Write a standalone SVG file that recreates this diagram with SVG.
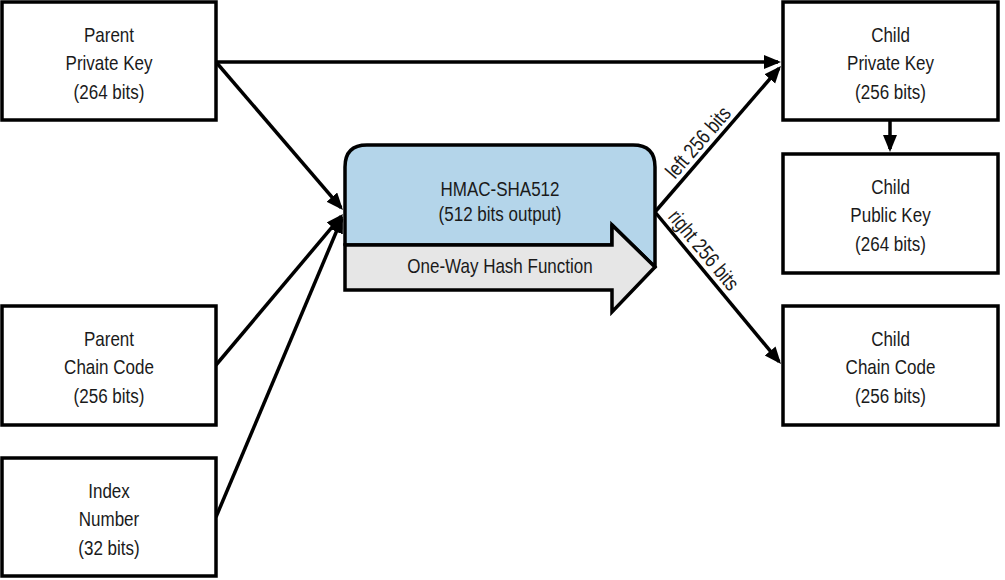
<svg xmlns="http://www.w3.org/2000/svg" width="1005" height="580" viewBox="0 0 1005 580">
<style>
.box{fill:#fff;stroke:#000;stroke-width:3.5}
.t{font-family:"Liberation Sans",Arial,sans-serif;font-size:21px;fill:#1a1a1a;text-anchor:middle}
.c{fill:none;stroke:#000;stroke-width:3.5}
</style>
<defs>
<marker id="ah" markerUnits="userSpaceOnUse" markerWidth="18" markerHeight="16" refX="14" refY="7" orient="auto">
<path d="M0,0 L17,7 L0,14 z" fill="#000"/>
</marker>
</defs>
<rect width="1005" height="580" fill="#fff"/>
<g id="connectors">
<line class="c" x1="216" y1="62" x2="778" y2="62" marker-end="url(#ah)"/>
<line class="c" x1="216" y1="62" x2="341" y2="207.7" marker-end="url(#ah)"/>
<line class="c" x1="216" y1="365" x2="341.1" y2="216.3" marker-end="url(#ah)"/>
<line class="c" x1="216" y1="517" x2="341.8" y2="218.8" marker-end="url(#ah)"/>
<line class="c" x1="655" y1="212" x2="779" y2="68.3" marker-end="url(#ah)"/>
<line class="c" x1="655" y1="212" x2="779.1" y2="361.7" marker-end="url(#ah)"/>
<line class="c" x1="890" y1="120" x2="890" y2="149" marker-end="url(#ah)"/>
<text class="t" transform="translate(703.5,147) rotate(-49.1) scale(0.81,1)">left 256 bits</text>
<text class="t" transform="translate(698.3,254.7) rotate(50.3) scale(0.81,1)">right 256 bits</text>
</g>
<g id="parent-private-key">
<rect class="box" x="2" y="2" width="214" height="118"/>
<text class="t" transform="translate(109,42) scale(0.81,1)">Parent</text>
<text class="t" transform="translate(109,70) scale(0.81,1)">Private Key</text>
<text class="t" transform="translate(109,99) scale(0.81,1)">(264 bits)</text>
</g>
<g id="parent-chain-code">
<rect class="box" x="2" y="306" width="214" height="119"/>
<text class="t" transform="translate(109,346) scale(0.81,1)">Parent</text>
<text class="t" transform="translate(109,374) scale(0.81,1)">Chain Code</text>
<text class="t" transform="translate(109,403) scale(0.81,1)">(256 bits)</text>
</g>
<g id="index-number">
<rect class="box" x="2" y="458" width="214" height="118"/>
<text class="t" transform="translate(109,498) scale(0.81,1)">Index</text>
<text class="t" transform="translate(109,526) scale(0.81,1)">Number</text>
<text class="t" transform="translate(109,555) scale(0.81,1)">(32 bits)</text>
</g>
<g id="hmac">
<path d="M345,245 L345,167 Q345,145 367,145 L633,145 Q655,145 655,167 L655,267 L612,225 L612,245 Z" fill="#b4d5ea" stroke="#000" stroke-width="3.5" stroke-linejoin="round"/>
<path d="M345,245 L612,245 L612,225 L655,267 L612,312 L612,290 L345,290 Z" fill="#e6e6e6" stroke="#000" stroke-width="3.5" stroke-linejoin="miter"/>
<text class="t" transform="translate(500,196) scale(0.81,1)">HMAC-SHA512</text>
<text class="t" transform="translate(500,221) scale(0.81,1)">(512 bits output)</text>
<text class="t" transform="translate(500,273) scale(0.81,1)">One-Way Hash Function</text>
</g>
<g id="child-private-key">
<rect class="box" x="783" y="2" width="215" height="118"/>
<text class="t" transform="translate(890.5,42) scale(0.81,1)">Child</text>
<text class="t" transform="translate(890.5,70) scale(0.81,1)">Private Key</text>
<text class="t" transform="translate(890.5,99) scale(0.81,1)">(256 bits)</text>
</g>
<g id="child-public-key">
<rect class="box" x="783" y="154" width="215" height="119"/>
<text class="t" transform="translate(890.5,194) scale(0.81,1)">Child</text>
<text class="t" transform="translate(890.5,222) scale(0.81,1)">Public Key</text>
<text class="t" transform="translate(890.5,251) scale(0.81,1)">(264 bits)</text>
</g>
<g id="child-chain-code">
<rect class="box" x="783" y="306" width="215" height="119"/>
<text class="t" transform="translate(890.5,346) scale(0.81,1)">Child</text>
<text class="t" transform="translate(890.5,374) scale(0.81,1)">Chain Code</text>
<text class="t" transform="translate(890.5,403) scale(0.81,1)">(256 bits)</text>
</g>
</svg>
